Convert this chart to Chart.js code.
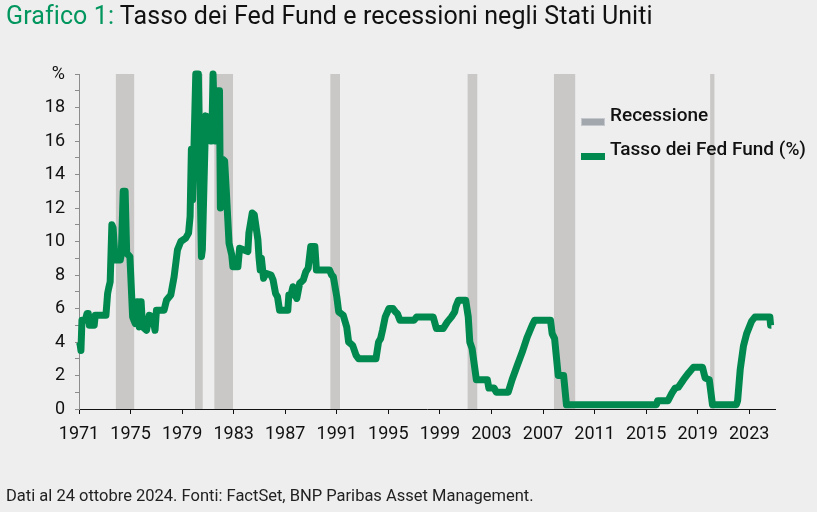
<!DOCTYPE html>
<html>
<head>
<meta charset="utf-8">
<script src="https://cdn.jsdelivr.net/npm/chart.js@4.4.1/dist/chart.umd.min.js"></script>
<style>
  body { margin: 0; background: #eeeeee; font-family: Roboto, "Noto Sans", sans-serif; }
  #wrap { position: relative; width: 817px; height: 512px; overflow: hidden; }
  #titolo { position: absolute; left: 6px; top: 0px; font-size: 25px; color: #111; white-space: nowrap; line-height: 32px; letter-spacing: 0.1px; }
  #titolo span { color: #00965e; }
  #fonte { position: absolute; left: 6px; top: 486px; font-size: 16.5px; color: #222; white-space: nowrap; }
  .leg { position: absolute; left: 581px; font-size: 19px; font-weight: 500; color: #111; white-space: nowrap; }
  .sw { position: absolute; left: 0; width: 24px; height: 8px; }
  .leg .txt { position: absolute; left: 29px; top: 0; }
  canvas { position: absolute; left: 0; top: 0; }
</style>
</head>
<body>
<div id="wrap">
  <canvas id="grafico" width="817" height="512"></canvas>
  <div id="titolo"><span>Grafico 1:</span> Tasso dei Fed Fund e recessioni negli Stati Uniti</div>
  <div class="leg" style="top:103px"><div class="sw" style="top:15px;background:#a2a7ad;box-shadow:0 0 0 1px #c4c7cb inset"></div><div class="txt">Recessione</div></div>
  <div class="leg" style="top:137px"><div class="sw" style="top:16px;background:#00894f;height:7px"></div><div class="txt">Tasso dei Fed Fund (%)</div></div>
  <div id="fonte">Dati al 24 ottobre 2024. Fonti: FactSet, BNP Paribas Asset Management.</div>
</div>
<script>
// anni in forma decimale e tasso dei Fed Fund (%)
var anni = [
  1971.00, 1971.08, 1971.15, 1971.23, 1971.49, 1971.62, 1971.72, 1971.80, 1972.18, 1972.26,
  1973.09, 1973.22, 1973.30, 1973.42, 1973.55, 1973.65, 1973.80, 1974.20, 1974.28, 1974.43,
  1974.58, 1974.70, 1974.95, 1975.16, 1975.36, 1975.50, 1975.58, 1975.67, 1975.75, 1975.82,
  1975.93, 1976.24, 1976.45, 1976.70, 1976.90, 1977.01, 1977.60, 1977.79, 1978.12, 1978.38,
  1978.64, 1978.90, 1979.28, 1979.50, 1979.62, 1979.72, 1979.82, 1980.06, 1980.26, 1980.50,
  1980.57, 1980.83, 1981.00, 1981.19, 1981.30, 1981.40, 1981.55, 1981.78, 1981.90, 1981.97,
  1982.17, 1982.30, 1982.43, 1982.64, 1982.85, 1982.94, 1983.33, 1983.46, 1984.10, 1984.18,
  1984.44, 1984.60, 1984.88, 1984.96, 1985.06, 1985.15, 1985.32, 1985.50, 1985.90, 1986.06,
  1986.25, 1986.40, 1986.56, 1987.20, 1987.28, 1987.45, 1987.60, 1987.72, 1987.90, 1988.12,
  1988.40, 1988.60, 1988.78, 1988.98, 1989.30, 1989.42, 1990.43, 1990.60, 1990.73, 1991.00,
  1991.15, 1991.50, 1991.77, 1991.92, 1992.23, 1992.50, 1992.70, 1994.04, 1994.24, 1994.40,
  1994.55, 1994.76, 1995.05, 1995.35, 1995.55, 1995.70, 1995.90, 1997.00, 1997.20, 1998.48,
  1998.73, 1999.25, 1999.58, 1999.90, 2000.15, 2000.23, 2000.44, 2001.00, 2001.20, 2001.32,
  2001.50, 2001.83, 2002.68, 2002.80, 2003.20, 2003.38, 2004.30, 2004.60, 2005.00, 2005.39,
  2005.78, 2006.16, 2006.35, 2007.58, 2007.71, 2007.90, 2008.18, 2008.60, 2008.82, 2015.80,
  2015.90, 2016.70, 2017.00, 2017.26, 2017.50, 2017.90, 2018.30, 2018.68, 2019.37, 2019.58,
  2019.90, 2020.15, 2022.00, 2022.10, 2022.30, 2022.55, 2022.80, 2023.19, 2023.45, 2024.60,
  2024.66, 2024.72
];
var tasso = [
  4.0, 3.9, 3.5, 5.3, 5.3, 5.7, 5.7, 5.0, 5.0, 5.6,
  5.6, 6.9, 7.2, 7.6, 11.0, 10.8, 8.9, 8.9, 9.2, 13.0,
  13.0, 9.3, 9.1, 5.5, 5.1, 6.4, 6.4, 4.9, 6.4, 6.4,
  4.9, 4.7, 5.6, 5.5, 4.7, 5.9, 5.9, 6.5, 6.8, 7.9,
  9.5, 10.0, 10.2, 10.5, 11.5, 15.5, 12.5, 20.0, 20.0, 9.1,
  9.5, 17.5, 17.4, 16.0, 16.0, 20.0, 16.0, 19.0, 19.0, 12.0,
  14.9, 14.8, 13.0, 9.9, 9.2, 8.5, 8.5, 9.6, 9.4, 10.5,
  11.7, 11.6, 10.1, 9.1, 8.3, 9.0, 7.8, 8.1, 8.0, 7.7,
  6.9, 6.7, 5.9, 5.9, 6.8, 6.8, 7.3, 6.9, 6.6, 7.5,
  7.7, 8.2, 8.4, 9.7, 9.7, 8.3, 8.3, 8.0, 7.9, 6.7,
  5.8, 5.6, 4.9, 4.0, 3.8, 3.2, 3.0, 3.0, 4.0, 4.2,
  4.7, 5.5, 6.0, 6.0, 5.8, 5.7, 5.3, 5.3, 5.5, 5.5,
  4.8, 4.8, 5.2, 5.5, 5.8, 6.1, 6.5, 6.5, 5.5, 4.0,
  3.6, 1.75, 1.75, 1.25, 1.25, 1.0, 1.0, 1.75, 2.6, 3.4,
  4.3, 5.0, 5.3, 5.3, 4.5, 4.2, 2.0, 2.0, 0.25, 0.25,
  0.5, 0.5, 0.95, 1.25, 1.3, 1.75, 2.15, 2.5, 2.5, 1.85,
  1.75, 0.25, 0.25, 0.5, 2.35, 3.75, 4.5, 5.25, 5.5, 5.5,
  5.0, 5.0
];
// recessioni negli Stati Uniti (inizio e fine)
var recInizio = [1973.86, 1980.0, 1981.5, 1990.5, 2001.15, 2007.85, 2019.97];
var recFine   = [1975.28, 1980.6, 1982.95, 1991.25, 2001.9, 2009.5, 2020.3];
var tickAnni = [1971, 1975, 1979, 1983, 1987, 1991, 1995, 1999, 2003, 2007, 2011, 2015, 2019, 2023];

var punti = anni.map(function (a, i) {
  return { x: a, y: tasso[i] };
});

// disegna le barre grigie delle recessioni sotto la linea
var recessioniPlugin = {
  id: "recessioni",
  beforeDatasetsDraw: function (chart) {
    var ctx = chart.ctx;
    var area = chart.chartArea;
    var xs = chart.scales.x;
    ctx.save();
    ctx.fillStyle = "#c9c8c7";
    for (var i = 0; i < recInizio.length; i++) {
      var x0 = xs.getPixelForValue(recInizio[i]);
      var x1 = xs.getPixelForValue(recFine[i]);
      ctx.fillRect(x0, area.top, x1 - x0, area.bottom - area.top);
    }
    ctx.restore();
  },
};

var ctx = document.getElementById("grafico").getContext("2d");
var grafico = new Chart(ctx, {
  type: "line",
  data: {
    datasets: [
      {
        label: "Tasso dei Fed Fund (%)",
        data: punti,
        borderColor: "#00894f",
        borderWidth: 7,
        pointRadius: 0,
        tension: 0,
        borderJoinStyle: "round",
        fill: false,
        clip: false,
      },
    ],
  },
  options: {
    responsive: false,
    animation: false,
    layout: { padding: { left: 0, right: 42, top: 74, bottom: 0 } },
    plugins: { legend: { display: false }, tooltip: { enabled: false } },
    scales: {
      x: {
        type: "linear",
        min: 1971,
        max: 2025,
        afterBuildTicks: function (s) {
          s.ticks = tickAnni.map(function (v) { return { value: v }; });
        },
        afterFit: function (s) { s.height = 103; },
        grid: { drawOnChartArea: false, color: "#111", tickLength: 5 },
        border: { color: "#111", width: 1 },
        ticks: {
          autoSkip: false,
          maxRotation: 0,
          padding: 10,
          color: "#111",
          font: { family: "Roboto", size: 18 },
          callback: function (v) { return String(v); },
        },
      },
      y: {
        min: 0,
        max: 20,
        afterFit: function (s) { s.width = 79; },
        grid: { drawOnChartArea: false, color: "#8c8c8c", tickLength: 4 },
        border: { color: "#8c8c8c", width: 1 },
        ticks: {
          stepSize: 1,
          autoSkip: false,
          padding: 10,
          color: "#111",
          font: { family: "Roboto", size: 18 },
          callback: function (v) {
            if (v === 20) return "%";
            return v % 2 === 0 ? String(v) : "";
          },
        },
      },
    },
  },
  plugins: [recessioniPlugin],
});
</script>
</body>
</html>
